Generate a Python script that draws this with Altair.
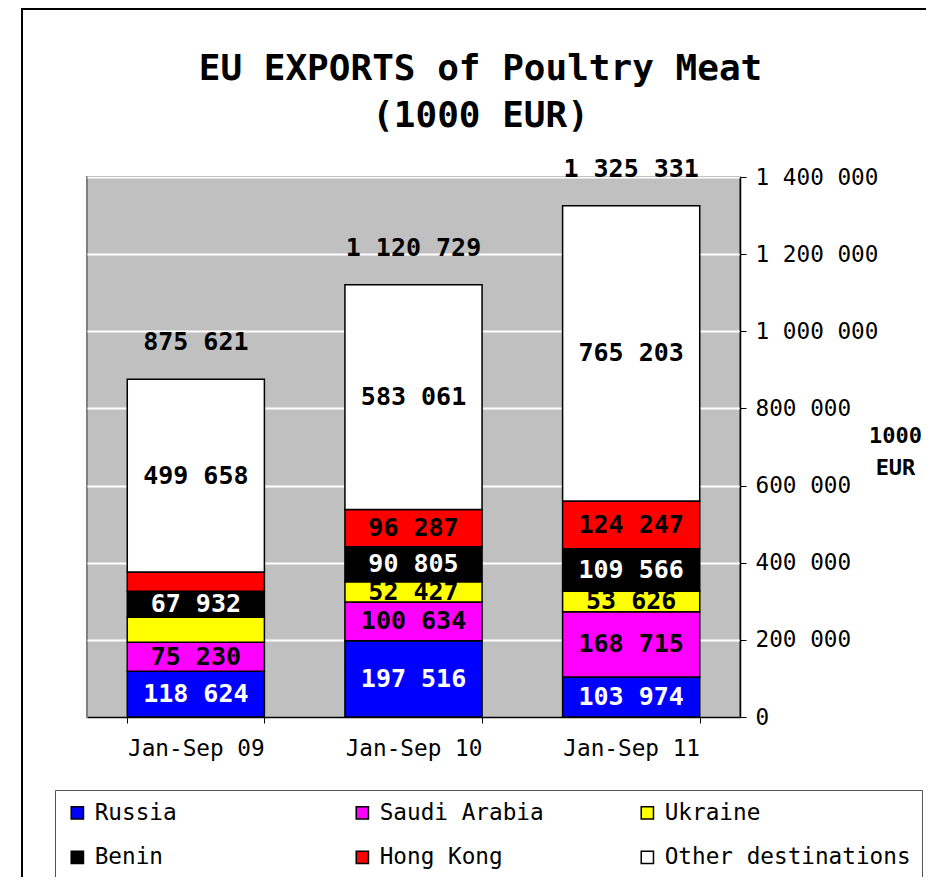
import altair as alt
import pandas as pd

FONT = "DejaVu Sans Mono"

periods = ["Jan-Sep 09", "Jan-Sep 10", "Jan-Sep 11"]
series = ["Russia", "Saudi Arabia", "Ukraine", "Benin", "Hong Kong", "Other destinations"]
colors = ["#0000FF", "#FF00FF", "#FFFF00", "#000000", "#FF0000", "#FFFFFF"]
label_colors = ["white", "black", "black", "white", "black", "black"]

russia = [118624, 197516, 103974]
saudi_arabia = [75230, 100634, 168715]
ukraine = [64500, 52427, 53626]        # 2009 value unlabeled in source, estimated
benin = [67932, 90805, 109566]
hong_kong = [49677, 96287, 124247]     # 2009 value unlabeled in source, estimated
other = [499658, 583061, 765203]
totals = [875621, 1120729, 1325331]

# segments without a printed value in the source
unlabeled = [("Jan-Sep 09", "Ukraine"), ("Jan-Sep 09", "Hong Kong")]

values = [russia, saudi_arabia, ukraine, benin, hong_kong, other]


def fmt(v):
    return f"{v:,}".replace(",", " ")


rows = []
for si, s in enumerate(series):
    for pi, p in enumerate(periods):
        v = values[si][pi]
        rows.append({
            "period": p,
            "series": s,
            "order": si,
            "value": v,
            "label": "" if (p, s) in unlabeled else fmt(v),
            "lc": label_colors[si],
        })
df = pd.DataFrame(rows)
df_tot = pd.DataFrame({"period": periods, "total": totals, "tlabel": [fmt(t) for t in totals]})

x_enc = alt.X(
    "period:N",
    sort=periods,
    title=None,
    scale=alt.Scale(paddingInner=0.37, paddingOuter=0.185),
    axis=alt.Axis(
        labelAngle=0, labelFont=FONT, labelFontSize=22.7, labelColor="black",
        labelPadding=14, domainColor="black", domainWidth=1.5,
        tickColor="black", tickSize=6, tickBand="extent", grid=False,
    ),
)

y_scale = alt.Scale(domain=[0, 1400000])

base = (
    alt.Chart(df)
    .transform_stack(stack="value", as_=["y0", "y1"], groupby=["period"],
                     sort=[alt.SortField("order", order="ascending")])
    .transform_calculate(mid="(datum.y0 + datum.y1) / 2")
)

bars = base.mark_bar(stroke="black", strokeWidth=1.5).encode(
    x=x_enc,
    y=alt.Y(
        "y0:Q", scale=y_scale, title=["1000", "EUR"],
        axis=alt.Axis(
            orient="right", values=list(range(0, 1400001, 200000)),
            labelExpr="replace(format(datum.value, ','), regexp(',', 'g'), ' ')",
            labelFont=FONT, labelFontSize=22.7, labelColor="black", labelPadding=9,
            domainColor="black", domainWidth=1.5, tickColor="black", tickSize=6,
            grid=True, gridColor="white", gridWidth=2,
            titleAngle=0, titleFont=FONT, titleFontSize=22, titleFontWeight="bold",
            titleColor="black", titleAlign="center", titleBaseline="middle",
            titleX=155, titleY=258, titleLineHeight=32,
        ),
    ),
    y2="y1:Q",
    color=alt.Color(
        "series:N", sort=series,
        scale=alt.Scale(domain=series, range=colors),
        legend=alt.Legend(
            title=None, orient="none", legendX=-32, legendY=613,
            direction="horizontal", columns=3, gridAlign="all",
            columnPadding=10, rowPadding=21,
            symbolType="square", symbolSize=150, symbolStrokeColor="black",
            symbolStrokeWidth=1.5, symbolOpacity=1,
            labelFont=FONT, labelFontSize=22.7, labelColor="black",
            labelLimit=400, labelOffset=6, padding=11,
            strokeColor="#555555", fillColor="white",
        ),
    ),
    order=alt.Order("order:Q"),
)

seg_labels = (
    base.transform_filter("datum.label != ''")
    .mark_text(font=FONT, fontSize=25, fontWeight="bold", baseline="middle")
    .encode(
        x=alt.X("period:N", sort=periods),
        y=alt.Y("mid:Q", scale=y_scale),
        text="label:N",
        color=alt.Color("lc:N", scale=None),
    )
)

tot_labels = alt.Chart(df_tot).mark_text(
    font=FONT, fontSize=25, fontWeight="bold", baseline="middle", dy=-37, color="black"
).encode(
    x=alt.X("period:N", sort=periods),
    y=alt.Y("total:Q", scale=y_scale),
    text="tlabel:N",
)

frame = alt.Chart(pd.DataFrame({"f": [0]})).mark_rect(
    filled=False, stroke="black", strokeWidth=2
).encode(
    x=alt.value(-65), x2=alt.value(900), y=alt.value(-168), y2=alt.value(800)
)

chart = (
    alt.layer(frame, bars, seg_labels, tot_labels)
    .properties(
        width=653, height=540,
        autosize=alt.AutoSizeParams(type="none"),
        padding={"left": 79, "top": 169, "right": 186, "bottom": 160},
        title=alt.TitleParams(
            text=["EU EXPORTS of Poultry Meat", "(1000 EUR)"],
            font=FONT, fontSize=36, fontWeight="bold", color="black",
            anchor="middle", frame="group", dx=67, dy=175, offset=48, lineHeight=47,
        ),
    )
    .configure_view(fill="#C0C0C0", stroke="#808080", strokeWidth=2)
)

chart.save("out.html", embed_options={"renderer": "svg", "actions": False})
